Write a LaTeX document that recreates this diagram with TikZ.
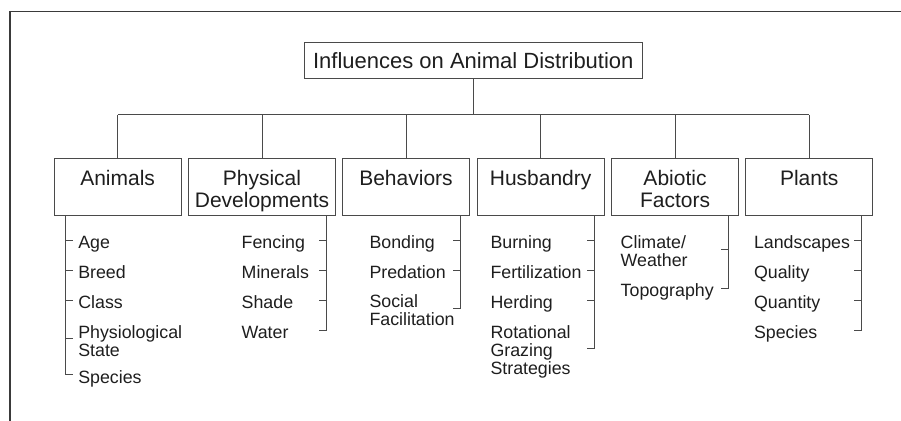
\documentclass[tikz,border=0pt]{standalone}
\usepackage{fontspec}
\setmainfont{Liberation Sans}
\usetikzlibrary{calc}
\definecolor{linec}{HTML}{4A4A4A}
\definecolor{framec}{HTML}{3A3A3A}
\definecolor{textc}{HTML}{1E1E1E}
\begin{document}
\begin{tikzpicture}[x=1pt,y=-1pt,
  conn/.style={draw=linec, line width=0.9pt},
  rootbox/.style={draw=linec, line width=0.9pt, minimum width=338pt, minimum height=36pt,
    inner sep=0pt, outer sep=0pt, text=textc, font=\fontsize{22}{24}\selectfont},
  catbox/.style={draw=linec, line width=0.9pt, minimum height=57pt, inner sep=0pt, outer sep=0pt},
  catlabel/.style={anchor=north, yshift=-11.5pt, inner sep=0pt, align=center, text=textc,
    font=\fontsize{21}{21.7}\selectfont},
  item/.style={anchor=north west, inner sep=0pt, outer sep=0pt, align=left, text=textc,
    font=\fontsize{17.8}{18}\selectfont}]
\useasboundingbox (0,0) rectangle (901,420);
\draw[draw=framec, line width=1.1pt] (10,11.5) rectangle (930,450);

% root
\node[rootbox] (root) at (473.3,60.3) {Influences on Animal Distribution};

% categories
\node[catbox, minimum width=126.7pt, label={[catlabel]north:Animals}] (animals) at (117.65,187) {};
\node[catbox, minimum width=147.4pt, label={[catlabel]north:{Physical\\Developments}}] (physical) at (262,187) {};
\node[catbox, minimum width=127.4pt, label={[catlabel]north:Behaviors}] (behaviors) at (406,187) {};
\node[catbox, minimum width=127.3pt, label={[catlabel]north:Husbandry}] (husbandry) at (540.65,187) {};
\node[catbox, minimum width=126.6pt, label={[catlabel]north:{Abiotic\\Factors}}] (abiotic) at (675,187) {};
\node[catbox, minimum width=127pt, label={[catlabel]north:Plants}] (plants) at (809.2,187) {};

% tree connectors
\coordinate (busy) at (0,114.7);
\draw[conn] (root.south) -- (root.south |- busy);
\draw[conn] (animals.north |- busy) -- (plants.north |- busy);
\foreach \n in {animals,physical,behaviors,husbandry,abiotic,plants}
  \draw[conn] (\n.north) -- (\n.north |- busy);

% branch line tops
\coordinate (av) at (65.7,215.5);
\coordinate (pv) at (326.7,215.5);
\coordinate (bv) at (460,215.5);
\coordinate (hv) at (594.3,215.5);
\coordinate (tv) at (728.3,215.5);
\coordinate (lv) at (861,215.5);

% Animals items
\node[item] (age) at (78.3,236) {Age};
\node[item] (breed) at (78.3,266) {Breed};
\node[item] (class) at (78.3,296) {Class};
\node[item] (physio) at (78.3,325.5) {Physiological\\State};
\node[item] (aspecies) at (78.3,370.5) {Species};
\foreach \n/\d in {age/4,breed/4,class/4,physio/13}
  \draw[conn] ($(\n.north -| av)+(0,\d)$) -- ++(7.5,0);
\draw[conn] (av) -- ($(aspecies.north -| av)+(0,4)$) -- ++(7.5,0);

% Physical items
\node[item] (fencing) at (241.7,236) {Fencing};
\node[item] (minerals) at (241.7,266) {Minerals};
\node[item] (shade) at (241.7,296) {Shade};
\node[item] (water) at (241.7,326) {Water};
\foreach \n/\d in {fencing/4,minerals/4,shade/4}
  \draw[conn] ($(\n.north -| pv)+(0,\d)$) -- ++(-7.5,0);
\draw[conn] (pv) -- ($(water.north -| pv)+(0,4)$) -- ++(-7.5,0);

% Behaviors items
\node[item] (bonding) at (369.5,236) {Bonding};
\node[item] (predation) at (369.5,266) {Predation};
\node[item] (social) at (369.5,295) {Social\\Facilitation};
\foreach \n/\d in {bonding/4,predation/4}
  \draw[conn] ($(\n.north -| bv)+(0,\d)$) -- ++(-7.5,0);
\draw[conn] (bv) -- ($(social.north -| bv)+(0,13)$) -- ++(-7.5,0);

% Husbandry items
\node[item] (burning) at (490.5,236) {Burning};
\node[item] (fert) at (490.5,266) {Fertilization};
\node[item] (herding) at (490.5,296) {Herding};
\node[item] (rotational) at (490.5,326) {Rotational\\Grazing\\Strategies};
\foreach \n/\d in {burning/4,fert/4,herding/4}
  \draw[conn] ($(\n.north -| hv)+(0,\d)$) -- ++(-7.5,0);
\draw[conn] (hv) -- ($(rotational.north -| hv)+(0,22)$) -- ++(-7.5,0);

% Abiotic items
\node[item] (climate) at (620.7,236) {Climate/\\Weather};
\node[item] (topo) at (620.7,284) {Topography};
\draw[conn] ($(climate.north -| tv)+(0,13)$) -- ++(-7.5,0);
\draw[conn] (tv) -- ($(topo.north -| tv)+(0,4)$) -- ++(-7.5,0);

% Plants items
\node[item] (landscapes) at (754,236) {Landscapes};
\node[item] (quality) at (754,266) {Quality};
\node[item] (quantity) at (754,296) {Quantity};
\node[item] (pspecies) at (754,326) {Species};
\foreach \n/\d in {landscapes/4,quality/4,quantity/4}
  \draw[conn] ($(\n.north -| lv)+(0,\d)$) -- ++(-7.5,0);
\draw[conn] (lv) -- ($(pspecies.north -| lv)+(0,4)$) -- ++(-7.5,0);
\end{tikzpicture}
\end{document}
